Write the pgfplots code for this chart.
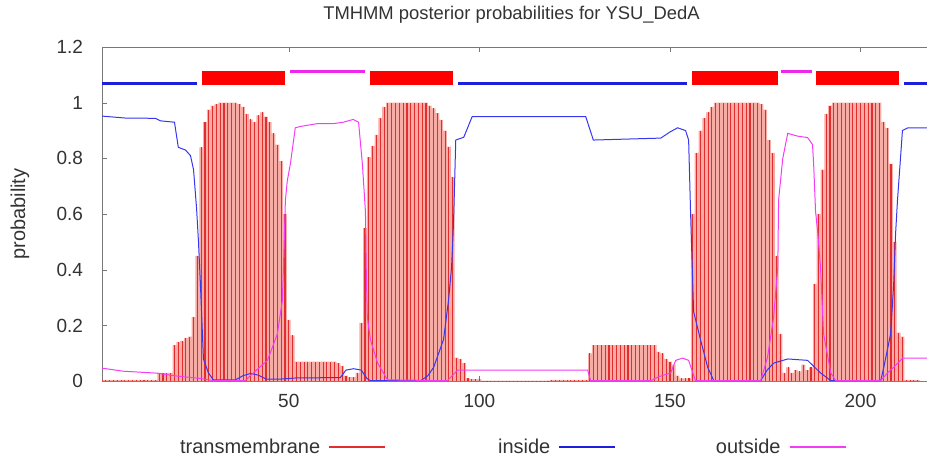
\documentclass[border=0pt]{standalone}
\usepackage{fontspec}
\setmainfont{Liberation Sans}
\usepackage{pgfplots}
\usepackage{pgfplotstable}
\pgfplotsset{compat=1.18}

\definecolor{tmred}{RGB}{225,45,45}
\definecolor{tmpink}{RGB}{247,172,166}
\definecolor{inblue}{RGB}{55,55,240}
\definecolor{outmag}{RGB}{245,60,245}
\definecolor{barblue}{RGB}{30,30,220}
\definecolor{barmag}{RGB}{235,40,235}
\definecolor{axgray}{RGB}{120,120,120}

% transmembrane posterior, one value per residue
\pgfplotstableread{
res tm
1 0.005
2 0.005
3 0.005
4 0.005
5 0.005
6 0.005
7 0.005
8 0.005
9 0.005
10 0.005
11 0.005
12 0.005
13 0.005
14 0.005
15 0.005
16 0.03
17 0.03
18 0.03
19 0.03
20 0.13
21 0.14
22 0.145
23 0.155
24 0.16
25 0.23
26 0.45
27 0.84
28 0.93
29 0.975
30 0.99
31 0.995
32 1
33 1
34 1
35 1
36 1
37 0.995
38 0.985
39 0.96
40 0.94
41 0.93
42 0.955
43 0.965
44 0.95
45 0.93
46 0.89
47 0.85
48 0.79
49 0.6
50 0.22
51 0.165
52 0.07
53 0.07
54 0.07
55 0.07
56 0.07
57 0.07
58 0.07
59 0.07
60 0.07
61 0.07
62 0.07
63 0.065
64 0.055
65 0.02
66 0.015
67 0.015
68 0.03
69 0.21
70 0.55
71 0.805
72 0.845
73 0.885
74 0.945
75 0.985
76 1
77 1
78 1
79 1
80 1
81 1
82 1
83 1
84 1
85 1
86 1
87 0.99
88 0.98
89 0.963
90 0.938
91 0.9
92 0.842
93 0.734
94 0.085
95 0.08
96 0.065
97 0.01
98 0.008
99 0.008
100 0.008
101 0.002
102 0.002
103 0.002
104 0.002
105 0.002
106 0.002
107 0.002
108 0.002
109 0.002
110 0.002
111 0.002
112 0.002
113 0.002
114 0.002
115 0.002
116 0.002
117 0.002
118 0.002
119 0.005
120 0.005
121 0.005
122 0.005
123 0.005
124 0.005
125 0.005
126 0.005
127 0.005
128 0.005
129 0.1
130 0.13
131 0.13
132 0.13
133 0.13
134 0.13
135 0.13
136 0.13
137 0.13
138 0.13
139 0.13
140 0.13
141 0.13
142 0.13
143 0.13
144 0.13
145 0.13
146 0.13
147 0.105
148 0.1
149 0.08
150 0.07
151 0.06
152 0.02
153 0.01
154 0.01
155 0.01
156 0.6
157 0.82
158 0.9
159 0.945
160 0.965
161 0.985
162 1
163 1
164 1
165 1
166 1
167 1
168 1
169 1
170 1
171 1
172 1
173 1
174 0.995
175 0.975
176 0.866
177 0.82
178 0.45
179 0.17
180 0.03
181 0.05
182 0.03
183 0.04
184 0.035
185 0.06
186 0.04
187 0.05
188 0.35
189 0.6
190 0.76
191 0.96
192 0.99
193 1
194 1
195 1
196 1
197 1
198 1
199 1
200 1
201 1
202 1
203 1
204 1
205 1
206 0.93
207 0.91
208 0.78
209 0.5
210 0.175
211 0.16
212 0.005
213 0.005
214 0.005
215 0.005
216 0
217 0
218 0
}\tmdata

\begin{document}
\begin{tikzpicture}
\begin{axis}[
    scale only axis,
    width=412.5pt, height=167pt,
    xmin=1, xmax=217.6,
    ymin=0, ymax=1.2,
    xtick={50,100,150,200},
    ytick={0,0.2,0.4,0.6,0.8,1,1.2},
    xtick pos=both, ytick pos=left,
    tick align=inside,
    major tick length=2.5pt,
    axis line style={axgray},
    tick style={axgray},
    /pgf/number format/assume math mode=true,
    tick label style={font=\fontsize{9.5}{11}\selectfont, text=black!80},
    yticklabel style={xshift=-6pt},
    xticklabel style={yshift=-3pt},
    title={TMHMM posterior probabilities for YSU\_DedA},
    title style={at={(0.496,1)}, anchor=base, yshift=8pt,
        font=\fontsize{9.2}{11}\selectfont, text=black!80},
    ylabel={probability},
    ylabel style={at={(axis description cs:-0.0994,0.5)}, anchor=center,
        font=\fontsize{10}{12}\selectfont, text=black!80},
    legend columns=3,
    legend plot pos=right,
    legend cell align=right,
    legend image code/.code={\draw[#1] (0pt,0pt) -- (28pt,0pt);},
    legend style={draw=none, fill=none, at={(0.497,-0.198)}, anchor=center,
        inner sep=0pt, font=\fontsize{10}{12}\selectfont, text=black!80,
        nodes={inner sep=0pt},
        /tikz/every even column/.append style={column sep=11pt}},
]

% pink shading between the impulses, then the impulses themselves
\addplot[ybar, bar width=1, draw=none, fill=tmpink, forget plot] table[x=res, y=tm] {\tmdata};
\addplot[ycomb, tmred, line width=0.55pt, forget plot] table[x=res, y=tm] {\tmdata};

% inside
\addplot[inblue, line width=0.5pt, forget plot] coordinates {
(1,0.952)(7.1,0.945)(15,0.944)(16.3,0.935)(20,0.93)(21,0.84)(22.9,0.83)(24.2,0.81)
(25,0.76)(25.8,0.62)(26.3,0.5)(26.8,0.35)(27.6,0.08)(28.9,0.03)(30.2,0.005)(36,0.005)
(38,0.02)(40,0.028)(42,0.022)(44,0.008)(48,0.008)(52,0.012)(63.5,0.013)(65,0.04)
(67,0.045)(69,0.04)(70.5,0.01)(71.4,0.002)(84.6,0.002)(86.5,0.02)(88,0.05)(90.6,0.15)
(91.9,0.29)(92.7,0.41)(93.1,0.53)(93.3,0.61)(93.8,0.866)(95.9,0.876)(98.1,0.95)(127.9,0.95)
(129.9,0.866)(147.6,0.873)(150,0.895)(152,0.91)(154.1,0.9)(154.9,0.866)(155.4,0.61)(156.2,0.25)
(158,0.15)(159.9,0.05)(161.5,0.002)(173.8,0.002)(175.5,0.04)(177.2,0.065)(180.9,0.08)(186.1,0.075)
(189.5,0.03)(192.2,0.002)(205.3,0.002)(206.1,0.05)(207.9,0.17)(208.7,0.35)(209.2,0.53)(209.7,0.65)
(211,0.9)(212.4,0.91)(218,0.91)
};

% outside
\addplot[outmag, line width=0.5pt, forget plot] coordinates {
(1,0.047)(6.6,0.036)(15.5,0.029)(19.7,0.02)(26.8,0.01)(30.2,0.002)(38.5,0.002)(40.7,0.03)
(44.4,0.075)(47,0.17)(48.3,0.29)(48.6,0.41)(49.1,0.65)(49.6,0.72)(50.4,0.78)(51.7,0.91)
(53.1,0.915)(57.5,0.925)(61.7,0.925)(64.3,0.93)(66.9,0.94)(68.3,0.93)(69.3,0.78)(70.1,0.61)
(70.3,0.41)(70.6,0.23)(71.4,0.15)(73.3,0.065)(75.9,0.005)(91.6,0.002)(94.3,0.04)(128.4,0.04)
(129.2,0.002)(145,0.002)(146.8,0.015)(150.2,0.03)(151.5,0.075)(153.3,0.083)(154.9,0.075)(156.7,0.002)
(173.8,0.002)(175.6,0.086)(177.2,0.23)(178.3,0.41)(178.5,0.65)(179.6,0.8)(180.9,0.89)(183.5,0.88)
(186.1,0.875)(187.4,0.85)(187.7,0.78)(188.2,0.61)(188.8,0.53)(189.5,0.41)(190.3,0.17)(192.2,0.03)
(193.5,0.002)(205.3,0.002)(207.1,0.03)(208.7,0.05)(210.5,0.075)(211,0.083)(218,0.083)
};

% predicted topology bars above the curves
\addplot[barblue, line width=1.6pt, line cap=butt, unbounded coords=jump, forget plot] coordinates {
(1,1.07)(25.8,1.07)(25.9,nan)(94.5,1.07)(154.4,1.07)(154.5,nan)(211.3,1.07)(218,1.07)
};
\addplot[red, line width=7pt, line cap=butt, unbounded coords=jump, forget plot] coordinates {
(27.1,1.089)(49.1,1.089)(49.2,nan)(71.2,1.089)(93,1.089)(93.1,nan)
(155.9,1.089)(178.3,1.089)(178.4,nan)(188.2,1.089)(210,1.089)
};
\addplot[barmag, line width=1.6pt, line cap=butt, unbounded coords=jump, forget plot] coordinates {
(50.2,1.112)(69.9,1.112)(70,nan)(179.1,1.112)(187.2,1.112)
};

\addlegendimage{tmred, line width=1pt}
\addlegendentry{\makebox[75pt][r]{transmembrane\hspace{4pt}}}
\addlegendimage{barblue, line width=1pt}
\addlegendentry{\makebox[75pt][r]{inside\hspace{4pt}}}
\addlegendimage{outmag, line width=1pt}
\addlegendentry{\makebox[75pt][r]{outside\hspace{4pt}}}
\end{axis}
\pgfresetboundingbox
\useasboundingbox (-51pt,-39pt) rectangle (412.2pt,190.5pt);
\end{tikzpicture}
\end{document}
